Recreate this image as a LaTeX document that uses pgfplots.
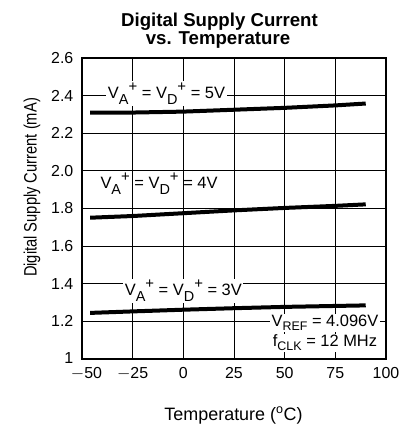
\documentclass[border=0pt]{standalone}
\usepackage{fontspec}
\setmainfont{Liberation Sans}
\newfontfamily\narrowy{Liberation Sans}[FakeStretch=0.82]
\usepackage{pgfplots}
\pgfplotsset{compat=1.18}
\newcommand\subA[1]{\raisebox{-6bp}{\fontsize{14.5}{14}\selectfont #1}}
\newcommand\supP{\raisebox{6.5bp}{\fontsize{15}{15}\selectfont +}}
\newcommand\subS[1]{\raisebox{-3.5bp}{\fontsize{12.5}{12}\selectfont #1}}
\newcommand\lab[1]{V\subA{A}\supP{} = V\subA{D}\supP{} = #1}
\begin{document}
\begin{tikzpicture}[x=1bp,y=1bp]
\begin{axis}[
  at={(0,0)}, anchor=south west,
  scale only axis, width=304bp, height=301bp,
  xmin=-50, xmax=100, ymin=1, ymax=2.6,
  xtick={-50,-25,0,25,50,75,100},
  ytick={1,1.2,1.4,1.6,1.8,2.0,2.2,2.4,2.6},
  yticklabels={\raisebox{1.5bp}{1},1.2,1.4,1.6,1.8,2.0,2.2,2.4,2.6},
  xticklabels={\makebox[0pt][c]{\hspace{9bp}$-$50},$-$25,0,25,50,75,100},
  /pgf/number format/assume math mode=true,
  tick style={draw=none},
  grid=major,
  major grid style={black, line width=0.8bp},
  axis line style={line width=1.8bp},
  ticklabel style={font=\fontsize{16}{18}\selectfont, inner sep=0.5bp},
  xticklabel style={yshift=-8bp},
  yticklabel style={xshift=-8bp},
]
\addplot[black, line width=4bp] coordinates {(-46,2.31) (-25,2.31) (0,2.315) (25,2.325) (50,2.335) (75,2.348) (90,2.358)};
\addplot[black, line width=4bp] coordinates {(-46,1.751) (-25,1.76) (0,1.775) (25,1.79) (50,1.803) (75,1.814) (90,1.822)};
\addplot[black, line width=4bp] coordinates {(-46,1.245) (-25,1.253) (0,1.262) (25,1.27) (50,1.277) (75,1.282) (90,1.285)};
\begin{scope}[every node/.style={font=\fontsize{16.5}{18}\selectfont, fill=white, inner sep=1.5bp, anchor=base}]
\node at (axis cs:-8.3,2.387) {\lab{5V}};
\node[fill=none] at (axis cs:-12,1.908) {\lab{4V}};
\node at (axis cs:0,1.339) {\lab{3V}};
\node at (axis cs:69.9,1.172) {V\subS{REF} = 4.096V};
\node at (axis cs:69.9,1.064) {f\subS{CLK} = 12 MHz};
\end{scope}
\end{axis}
\node[font=\bfseries\fontsize{18.7}{18}\selectfont, anchor=base] at (137.5bp,332.3bp) {Digital Supply Current};
\node[font=\bfseries\fontsize{18.7}{18}\selectfont, anchor=base] at (136bp,314bp) {vs. Temperature};
\node[font=\fontsize{18}{20}\selectfont, anchor=base] at (151.5bp,-61bp) {Temperature (\textsuperscript{o}C)};
\node[font=\narrowy\fontsize{18}{20}\selectfont, rotate=90] at (-50bp,171.5bp) {Digital Supply Current (mA)};
\pgfresetboundingbox
\useasboundingbox (-82bp,-68bp) rectangle (321bp,359bp);
\end{tikzpicture}
\end{document}
